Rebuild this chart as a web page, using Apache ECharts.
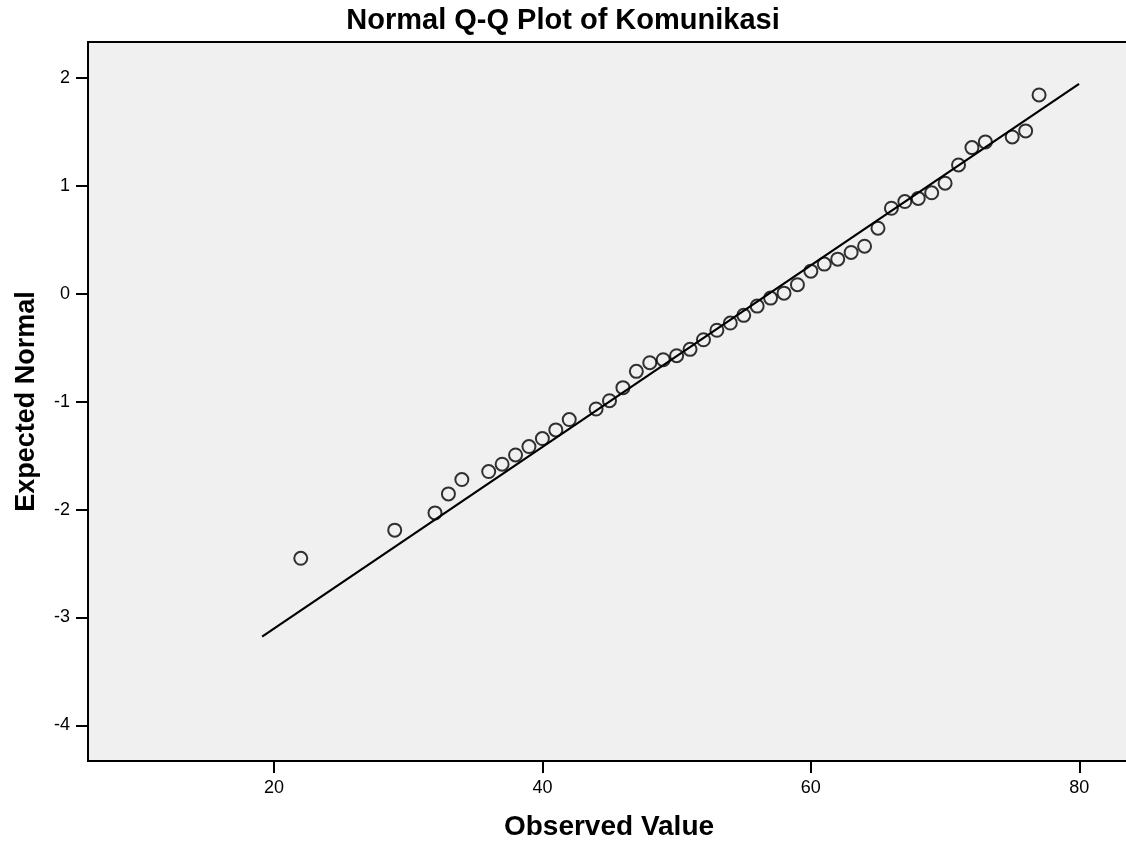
<!DOCTYPE html>
<html>
<head>
<meta charset="utf-8">
<title>Normal Q-Q Plot of Komunikasi</title>
<script src="https://cdn.jsdelivr.net/npm/echarts@6/dist/echarts.min.js"></script>
<style>
  html, body { margin: 0; padding: 0; background: #fff; overflow: hidden; }
  #main { width: 1126px; height: 846px; }
</style>
</head>
<body>
<div id="main"></div>
<script>
var observed = [22, 29, 32, 33, 34, 36, 37, 38, 39, 40, 41, 42, 44, 45, 46, 47, 48, 49, 50, 51,
  52, 53, 54, 55, 56, 57, 58, 59, 60, 61, 62, 63, 64, 65, 66, 67, 68, 69, 70, 71, 72, 73, 75, 76, 77];
var expected = [-2.451, -2.19, -2.03, -1.854, -1.721, -1.647, -1.579, -1.493, -1.415, -1.341,
  -1.261, -1.165, -1.067, -0.99, -0.869, -0.718, -0.638, -0.61, -0.573, -0.514,
  -0.425, -0.337, -0.27, -0.199, -0.113, -0.039, 0.007, 0.085, 0.211, 0.276,
  0.322, 0.384, 0.442, 0.609, 0.794, 0.856, 0.885, 0.937, 1.026, 1.195,
  1.356, 1.409, 1.455, 1.511, 1.844];
// reference line end points
var lineX = [19.12, 79.98];
var lineY = [-3.177, 1.947];
// tick labels
var xTicks = [20, 40, 60, 80];
var yTicks = [-4, -3, -2, -1, 0, 1, 2];

var font = "'Liberation Sans', Arial, sans-serif";

var points = observed.map(function (v, i) { return [v, expected[i]]; });
var linePts = lineX.map(function (v, i) { return [v, lineY[i]]; });

var myChart = echarts.init(document.getElementById("main"));
myChart.setOption({
  animation: false,
  backgroundColor: "#ffffff",
  title: {
    text: "Normal Q-Q Plot of Komunikasi",
    left: "center",
    top: 1,
    textStyle: { fontFamily: font, fontSize: 29, fontWeight: "bold", color: "#000" }
  },
  grid: {
    left: 88,
    top: 42,
    right: -12, // plot frame runs past the right edge of the picture
    bottom: 85,
    outerBoundsMode: "none",
    show: true,
    backgroundColor: "#f0f0f0",
    borderColor: "#000",
    borderWidth: 2
  },
  xAxis: {
    type: "value",
    min: 6.15,
    max: 84.37,
    name: "Observed Value",
    nameLocation: "middle",
    nameGap: 52,
    nameTextStyle: { fontFamily: font, fontSize: 28, fontWeight: "bold", color: "#000", padding: [0, 8, 0, 0] },
    axisLine: { show: true, onZero: false, lineStyle: { color: "#000", width: 2 } },
    axisTick: { show: true, length: 12, customValues: xTicks, lineStyle: { color: "#000", width: 2 } },
    axisLabel: { customValues: xTicks, margin: 18, fontFamily: font, fontSize: 18, color: "#000" },
    splitLine: { show: false }
  },
  yAxis: {
    type: "value",
    min: -4.33,
    max: 2.335,
    name: "Expected Normal",
    nameLocation: "middle",
    nameGap: 48,
    nameTextStyle: { fontFamily: font, fontSize: 27, fontWeight: "bold", color: "#000" },
    axisLine: { show: true, onZero: false, lineStyle: { color: "#000", width: 2 } },
    axisTick: { show: true, length: 12, customValues: yTicks, lineStyle: { color: "#000", width: 2 } },
    axisLabel: { customValues: yTicks, margin: 18, fontFamily: font, fontSize: 18, color: "#000" },
    splitLine: { show: false }
  },
  series: [
    {
      type: "line",
      data: linePts,
      symbol: "none",
      lineStyle: { color: "#000", width: 2.2 },
      z: 2
    },
    {
      type: "scatter",
      data: points,
      symbol: "circle",
      symbolSize: 13,
      itemStyle: { color: "rgba(0,0,0,0)", borderColor: "#000", borderWidth: 2 },
      z: 3
    }
  ]
});
window.addEventListener("resize", function () {
  myChart.resize();
});
</script>
</body>
</html>
